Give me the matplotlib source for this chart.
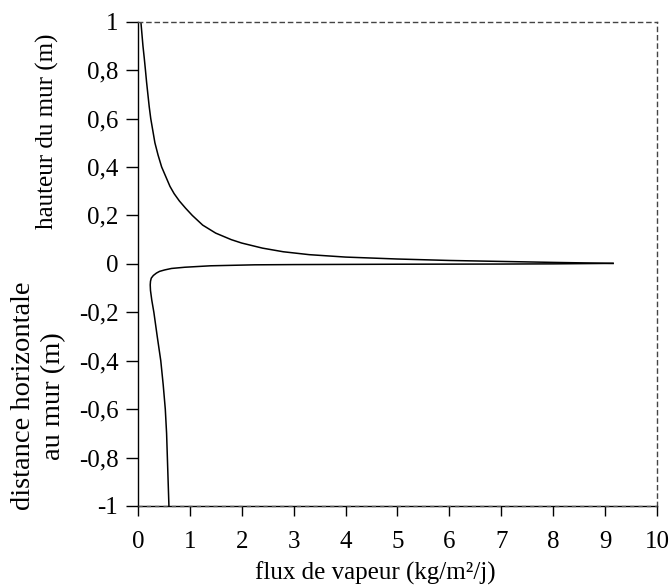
import numpy as np
import matplotlib
matplotlib.use("Agg")
import matplotlib.pyplot as plt
from matplotlib.ticker import FuncFormatter

plt.rcParams["font.family"] = ["Liberation Serif", "DejaVu Serif"]
plt.rcParams["axes.linewidth"] = 1.0

# upper branch: flux along the wall height (x = flux, y = height)
wall_flux = [0.06, 0.08, 0.10, 0.125, 0.148, 0.17, 0.195, 0.22, 0.25, 0.29, 0.33, 0.39,
             0.46, 0.54, 0.62, 0.70, 0.80, 0.92, 1.05, 1.25, 1.5, 1.8, 2.0, 2.4, 2.8,
             3.3, 4.0, 5.0, 6.0, 7.0, 8.0, 9.15]
wall_height = [1.0, 0.95, 0.90, 0.85, 0.80, 0.75, 0.70, 0.65, 0.60, 0.55, 0.50, 0.45,
               0.40, 0.36, 0.32, 0.29, 0.26, 0.23, 0.20, 0.16, 0.127, 0.10, 0.086, 0.065,
               0.05, 0.038, 0.028, 0.02, 0.014, 0.01, 0.006, 0.002]

# lower branch: flux vs horizontal distance to the wall (negative side)
ground_flux = [9.15, 8.0, 7.0, 5.0, 3.0, 2.25, 1.4, 0.905, 0.65, 0.52, 0.42, 0.36, 0.30,
               0.26, 0.245, 0.24, 0.245, 0.27, 0.31, 0.375, 0.443, 0.49, 0.53, 0.555,
               0.57, 0.585, 0.6]
ground_dist = [0.002, 0.0, -0.0008, -0.0015, -0.003, -0.004, -0.008, -0.014, -0.019,
               -0.025, -0.031, -0.038, -0.048, -0.059, -0.072, -0.087, -0.11, -0.15,
               -0.2, -0.3, -0.4, -0.5, -0.6, -0.7, -0.8, -0.9, -1.0]

fig = plt.figure(figsize=(6.72, 5.87), dpi=100)
ax = fig.add_axes([0.205, 0.138, 0.773, 0.825])

ax.plot(wall_flux, wall_height, color="black", lw=1.1)
ax.plot(ground_flux, ground_dist, color="black", lw=1.1)

ax.set_xlim(0, 10)
ax.set_ylim(-1, 1)
ax.set_xticks(np.arange(0, 11, 1))
ax.set_yticks(np.round(np.arange(-1, 1.01, 0.2), 1))
ax.yaxis.set_major_formatter(
    FuncFormatter(lambda v, p: f"{round(v, 1) + 0.0:g}".replace(".", ",")))

for side in ["top", "right"]:
    ax.spines[side].set_linestyle((0, (3, 3)))
    ax.spines[side].set_color("#444444")
ax.axhline(-1, color="#555555", lw=1.0, ls=(0, (3, 3)), clip_on=False, zorder=3)

ax.tick_params(axis="x", direction="out", length=7, width=1, labelsize=18, pad=11)
ax.tick_params(axis="y", direction="out", length=9, width=1, labelsize=18, pad=5)

fig.text(0.558, 0.024, "flux de vapeur (kg/m²/j)", fontsize=18, ha="center", va="center")
fig.text(0.071, 0.776, "hauteur du mur (m)", rotation=90, fontsize=18,
         ha="center", va="center")
fig.text(0.057, 0.325, "distance horizontale\nau mur (m)", rotation=90, fontsize=20.5,
         ha="center", va="center", multialignment="center", linespacing=1.25)

fig.savefig("out.png", dpi=100)
